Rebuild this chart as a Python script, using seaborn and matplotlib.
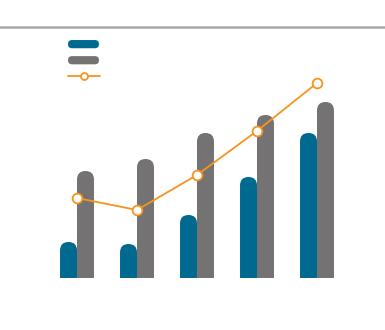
import matplotlib
matplotlib.use("Agg")
import matplotlib.pyplot as plt
from matplotlib.patches import FancyBboxPatch, Patch
from matplotlib.lines import Line2D
from matplotlib.legend_handler import HandlerPatch
import seaborn as sns
import pandas as pd
import numpy as np

categories = ["A", "B", "C", "D", "E"]
series1 = [36, 34, 63, 101, 145]
series2 = [107, 119, 145, 163, 176]
line_vals = [80, 68, 103, 147, 195]

BLUE = "#006990"
GRAY = "#747272"
ORANGE = "#f7931e"

sns.set_style("white")
fig = plt.figure(figsize=(3.85, 3.3), dpi=100)
ax = fig.add_axes([0, 1 - 278 / 330, 1, 251 / 330])

df = pd.DataFrame({
    "cat": categories * 2,
    "val": series1 + series2,
    "ser": ["s1"] * 5 + ["s2"] * 5,
})
sns.barplot(data=df, x="cat", y="val", hue="ser", palette=[BLUE, GRAY],
            width=0.566, dodge=True, legend=False, ax=ax, saturation=1)

xmin = -77 / 60
ax.set_xlim(xmin, xmin + 385 / 60)
ax.set_ylim(0, 251)

# replace bars with rounded-top bars
bars = list(ax.patches)
r = 8.5 / 60
for p in bars:
    x, w, h = p.get_x(), p.get_width(), p.get_height()
    col = p.get_facecolor()
    p.set_visible(False)
    fb = FancyBboxPatch((x, -30), w, h + 30,
                        boxstyle=f"round,pad=0,rounding_size={r}",
                        mutation_aspect=60, facecolor=col, edgecolor="none",
                        zorder=2)
    ax.add_patch(fb)

ldf = pd.DataFrame({"x": np.arange(len(categories)), "y": line_vals})
sns.lineplot(data=ldf, x="x", y="y", color=ORANGE, linewidth=1.3, marker="o",
             markersize=7, markerfacecolor="white", markeredgecolor=ORANGE,
             markeredgewidth=1.3, ax=ax, zorder=5, legend=False)

for s in ["left", "right", "bottom"]:
    ax.spines[s].set_visible(False)
ax.spines["top"].set_color("#a8a8a8")
ax.spines["top"].set_linewidth(1.8)
ax.set_xticks([])
ax.set_yticks([])
ax.set_xlabel("")
ax.set_ylabel("")


def pill(legend, orig_handle, xdescent, ydescent, width, height, fontsize):
    ph = 5.9
    y0 = -ydescent + height / 2 - ph / 2
    return FancyBboxPatch((-xdescent, y0), width - 0.7, ph,
                          boxstyle=f"round,pad=0,rounding_size={ph / 2}")


handles = [
    Patch(facecolor=BLUE, edgecolor="none"),
    Patch(facecolor=GRAY, edgecolor="none"),
    Line2D([], [], color=ORANGE, linewidth=1.3, marker="o", markersize=5,
           markerfacecolor="white", markeredgecolor=ORANGE, markeredgewidth=1.3),
]
fig.legend(handles, ["", "", ""], loc="upper left",
           bbox_to_anchor=(68 / 385, 1 - 38 / 330), frameon=False,
           handlelength=2.3, labelspacing=0.15, handletextpad=0,
           borderpad=0, borderaxespad=0,
           handler_map={Patch: HandlerPatch(patch_func=pill)})

fig.savefig("out.png", dpi=100)
